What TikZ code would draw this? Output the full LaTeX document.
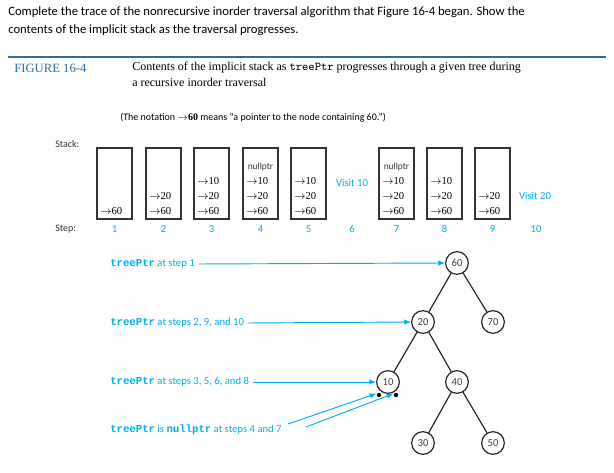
\documentclass[tikz,border=0pt]{standalone}
\usepackage{fontspec}
\setmainfont{Carlito}
\newfontfamily\ser{Liberation Serif}
\newfontfamily\mono{Liberation Mono}
\usetikzlibrary{arrows.meta}
\definecolor{cy}{RGB}{0,174,239}
\definecolor{fb}{RGB}{40,110,170}
\begin{document}
\begin{tikzpicture}[x=0.75pt,y=-0.75pt,
  box/.style={draw=black!80,line width=0.9pt},
  ent/.style={font=\ser\fontsize{8}{9}\selectfont,inner sep=0pt},
  stp/.style={text=cy,font=\fontsize{8}{9}\selectfont},
  tn/.style={circle,draw=black!85,line width=0.9pt,minimum size=17pt,inner sep=0pt,font=\fontsize{8}{9}\selectfont,text=black!75},
  lab/.style={text=cy,font=\fontsize{8}{9}\selectfont,anchor=west,inner sep=0pt},
  pa/.style={draw=cy,line width=0.7pt,-{Latex[length=5pt,width=4pt]}},
  ed/.style={draw=black!85,line width=0.9pt}]
\useasboundingbox (0,0) rectangle (614,473);
\node[anchor=west,inner sep=0pt,font=\fontsize{9.5}{11}\selectfont] (h1) at (8,12) {Complete the trace of the nonrecursive inorder traversal algorithm that Figure 16-4 began. Show the};
\node[anchor=west,inner sep=0pt,font=\fontsize{9.5}{11}\selectfont] (h2) at (8,30) {contents of the implicit stack as the traversal progresses.};
\draw[fb,line width=0.8pt] (8,57) -- (606,57);
\node[anchor=west,inner sep=0pt,text=fb,font=\ser\fontsize{9.5}{11}\selectfont] (fg) at (14,68) {FIGURE 16-4};
\node[anchor=north west,inner sep=0pt,align=left,font=\ser\fontsize{9}{11.5}\selectfont] (cap) at (132,62) {Contents of the implicit stack as \texttt{treePtr} progresses through a given tree during\\a recursive inorder traversal};
\node[anchor=west,inner sep=0pt,font=\fontsize{7.5}{9}\selectfont] (nt) at (120,118) {(The notation {\ser\bfseries$\rightarrow$60} means ``a pointer to the node containing 60.'')};
\node[anchor=west,inner sep=0pt,font=\fontsize{7.5}{9}\selectfont,text=black!80] (st) at (55,144) {Stack:};
\node[anchor=west,inner sep=0pt,font=\fontsize{7.5}{9}\selectfont,text=black!80] (sp) at (55,229) {Step:};
% boxes
\foreach \i/\x in {1/97,2/146,3/194,4/243,5/291,7/379,8/427,9/475}{
  \draw[box] (\x,148) rectangle (\x+35,219);
}
\newcommand{\en}[3]{\node[ent,anchor=west] at (#1+3,#2) {$\rightarrow$#3};}
\en{97}{211}{60}
\en{146}{211}{60}\en{146}{196}{20}
\en{194}{211}{60}\en{194}{196}{20}\en{194}{181}{10}
\en{243}{211}{60}\en{243}{196}{20}\en{243}{181}{10}
\node[inner sep=0pt,font=\fontsize{7}{8}\selectfont,text=black!80] at (260.5,167) {nullptr};
\en{291}{211}{60}\en{291}{196}{20}\en{291}{181}{10}
\en{379}{211}{60}\en{379}{196}{20}\en{379}{181}{10}
\node[inner sep=0pt,font=\fontsize{7}{8}\selectfont,text=black!80] at (396.5,167) {nullptr};
\en{427}{211}{60}\en{427}{196}{20}\en{427}{181}{10}
\en{475}{211}{60}\en{475}{196}{20}
\node[stp] at (352,183) {Visit 10};
\node[stp] at (535,196) {Visit 20};
\foreach \n/\x in {1/114.5,2/163.5,3/211.5,4/260.5,5/308.5,6/352,7/396.5,8/444.5,9/492.5,10/536}{
  \node[stp] at (\x,229) {\n};
}
% tree
\node[tn] (n60) at (457,263) {60};
\node[tn] (n20) at (423,322) {20};
\node[tn] (n70) at (493,322) {70};
\node[tn] (n10) at (388,382) {10};
\node[tn] (n40) at (457,382) {40};
\node[tn] (n30) at (423,443) {30};
\node[tn] (n50) at (493,443) {50};
\draw[ed] (n60)--(n20) (n60)--(n70) (n20)--(n10) (n20)--(n40) (n40)--(n30) (n40)--(n50);
\fill (379,395) circle (1.6pt) coordinate (d1);
\fill (396,395) circle (1.6pt) coordinate (d2);
% labels
\node[lab] (l1) at (110,264) {{\mono\bfseries treePtr} at step 1};
\node[lab] (l2) at (110,323) {{\mono\bfseries treePtr} at steps 2, 9, and 10};
\node[lab] (l3) at (110,382) {{\mono\bfseries treePtr} at steps 3, 5, 6, and 8};
\node[lab] (l4) at (110,430) {{\mono\bfseries treePtr} is {\mono\bfseries nullptr} at steps 4 and 7};
\draw[pa] ([xshift=3pt]l1.east) -- (n60.west);
\draw[pa] ([xshift=3pt]l2.east) -- (n20.west);
\draw[pa] ([xshift=3pt]l3.east) -- (n10.west);
\coordinate (s1) at (288,424);
\coordinate (s2) at (306,427);
\draw[pa] (s1) -- ([xshift=-2pt,yshift=1pt]d1);
\draw[pa] (s2) -- ([xshift=-2pt,yshift=1pt]d2);
\end{tikzpicture}
\end{document}
